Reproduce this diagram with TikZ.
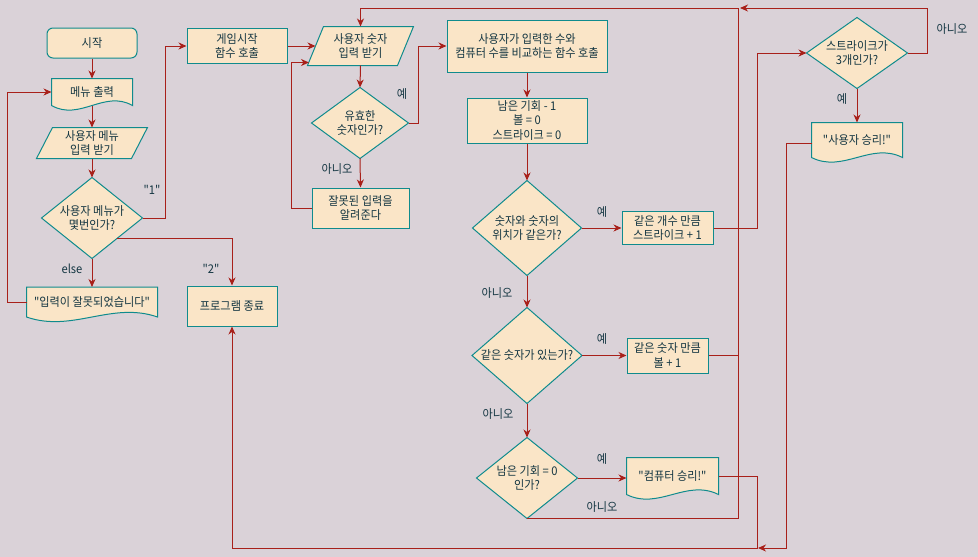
\documentclass[tikz,border=0pt]{standalone}
\usepackage{fontspec}
\setmainfont{Noto Sans CJK KR}[FakeStretch=0.93, Ligatures=TeXOff]
\usetikzlibrary{arrows.meta,calc,backgrounds}

\definecolor{bgcol}{HTML}{DAD2D8}
\definecolor{fillcol}{HTML}{FAE5C7}
\definecolor{linecol}{HTML}{0F8B8D}
\definecolor{flowcol}{HTML}{A8201A}
\definecolor{textcol}{HTML}{143642}

\tikzset{
  procbox/.style={draw=linecol, fill=fillcol, line width=1pt, text=textcol, align=center,
    inner sep=0pt, font=\fontsize{12}{14.5}\selectfont},
  txtonly/.style={procbox, draw=none, fill=none},
  outline/.style={draw=linecol, fill=fillcol, line width=1pt},
  flow/.style={draw=flowcol, line width=1pt, -{Stealth[length=8pt,width=7pt,inset=2.5pt]}},
  joint/.style={draw=flowcol, line width=1pt},
  lbl/.style={text=textcol, font=\fontsize{12}{14}\selectfont, inner sep=0pt},
}

% document shape with wavy bottom, drawn round a text node
\newcommand{\docpath}[1]{%
  \path[outline] (#1.north west) -- (#1.north east) -- (#1.south east)
    .. controls ($(#1.south east)!0.35!(#1.south west)+(0,-16)$)
            and ($(#1.south west)!0.35!(#1.south east)+(0,16)$) .. (#1.south west) -- cycle;}
% parallelogram round a text node
\newcommand{\parapath}[2]{%
  \path[outline] ([xshift=#2]#1.north west) -- ([xshift=#2]#1.north east)
    -- ([xshift=-#2]#1.south east) -- ([xshift=-#2]#1.south west) -- cycle;}

\begin{document}
\begin{tikzpicture}[x=1pt,y=-1pt]
\useasboundingbox (0,0) rectangle (978,557);
% menu column
\node[procbox, rounded corners=6pt, minimum width=90pt, minimum height=30pt] (start) at (92,43) {시작};
\node[txtonly, minimum width=80pt, minimum height=26pt] (menu) at (92,92) {메뉴 출력};
\node[txtonly, minimum width=94pt, minimum height=30pt] (menuin) at (92,143) {사용자 메뉴\\입력 받기};
\node[txtonly, minimum width=100pt, minimum height=80pt] (menuq) at (92,218) {사용자 메뉴가\\몇번인가?};
\node[txtonly, minimum width=130pt, minimum height=29pt] (wrong) at (92,302) {"입력이 잘못되었습니다"};
\node[procbox, minimum width=100pt, minimum height=35pt] (game) at (237,46) {게임시작\\함수 호출};
\node[procbox, minimum width=90pt, minimum height=40pt] (quit) at (232,306) {프로그램 종료};
% number input
\node[txtonly, minimum width=89pt, minimum height=38pt] (numin) at (360.5,46) {사용자 숫자\\입력 받기};
\node[txtonly, minimum width=96pt, minimum height=70pt] (validq) at (360,123) {유효한\\숫자인가?};
\node[procbox, minimum width=97pt, minimum height=40pt] (invalid) at (360.5,208) {잘못된 입력을\\알려준다};
% compare column
\node[procbox, minimum width=160pt, minimum height=52pt] (compare) at (527,46) {사용자가 입력한 수와\\컴퓨터 수를 비교하는 함수 호출};
\node[procbox, minimum width=120pt, minimum height=45pt] (reset) at (527,120.5) {남은 기회 - 1\\볼 = 0\\스트라이크 = 0};
\node[txtonly, minimum width=108pt, minimum height=94pt] (posq) at (527,228) {숫자와 숫자의\\위치가 같은가?};
\node[procbox, minimum width=91pt, minimum height=33pt] (strike) at (667.5,228) {같은 개수 만큼\\스트라이크 + 1};
\node[txtonly, minimum width=109pt, minimum height=95pt] (sameq) at (527,355.5) {같은 숫자가 있는가?};
\node[procbox, minimum width=81pt, minimum height=35pt] (ball) at (667.5,355.5) {같은 숫자 만큼\\볼 + 1};
\node[txtonly, minimum width=100pt, minimum height=80pt] (leftq) at (527,478) {남은 기회 = 0\\인가?};
\node[txtonly, minimum width=91pt, minimum height=36pt] (comwin) at (672.5,476) {"컴퓨터 승리!"};
\node[txtonly, minimum width=100pt, minimum height=70pt] (threeq) at (857,53) {스트라이크가\\3개인가?};
\node[txtonly, minimum width=90pt, minimum height=34pt] (userwin) at (857,140) {"사용자 승리!"};

% outlines behind the texts
\begin{scope}[on background layer]
  \fill[bgcol] (0,0) rectangle (978,557);
  \foreach \d in {menu,wrong,comwin,userwin} {\docpath{\d}}
  \foreach \p in {menuin,numin} {\parapath{\p}{8pt}}
  \foreach \q in {menuq,validq,posq,sameq,leftq,threeq}
    {\path[outline] (\q.north) -- (\q.east) -- (\q.south) -- (\q.west) -- cycle;}
\end{scope}

% connectors
\draw[flow] (start.south) -- (menu.north);
\draw[flow] (menu.south) -- (menuin.north);
\draw[flow] (menuin.south) -- (menuq.north);
\draw[flow] (menuq.east) -- ++(23,0) |- (game.west);
\draw[flow] ($(menuq.east)!0.5!(menuq.south)$) -| (quit.north);
\draw[flow] (menuq.south) -- (wrong.north);
\draw[flow] (wrong.west) -- ++(-19,0) |- (menu.west);
\draw[flow] (game.east) -- (numin.west);
\draw[flow] (numin.south) -- (validq.north);
\draw[flow] (validq.south) -- (invalid.north);
\draw[flow] (invalid.west) -- ++(-20,0) |- ([xshift=-6.5pt,yshift=3pt]numin.south west);
\draw[flow] (validq.east) -- ++(10,0) |- (compare.west);
\draw[flow] (compare.south) -- (reset.north);
\draw[flow] (reset.south) -- (posq.north);
\draw[flow] (posq.east) -- (strike.west);
\draw[flow] (posq.south) -- (sameq.north);
\draw[flow] (sameq.east) -- (ball.west);
\draw[flow] (sameq.south) -- (leftq.north);
\draw[flow] (leftq.east) -- (leftq.east -| comwin.west);
\coordinate (loopx) at (738,8);
\draw[flow] (leftq.south) -| (loopx) -| (numin.north);
\draw[joint] (ball.east) -- (ball.east -| loopx);
\draw[flow] (strike.east) -- ++(44,0) |- (threeq.west);
\draw[flow] (threeq.east) -- ++(20,0) |- ([xshift=2pt]loopx);
\draw[flow] (threeq.south) -- (userwin.north);
\coordinate (endjoin) at (757,548);
\draw[flow] ([yshift=-3pt]userwin.west) -- ++(-25,0) |- ([xshift=1pt]endjoin);
\draw[flow] (comwin.east) -| (endjoin) -| (quit.south);

% branch labels
\node[lbl] (lone) at (152,190) {"1"};
\node[lbl] (ltwo) at (211,269) {"2"};
\node[lbl] (lelse) at (72,269) {else};
\node[lbl] (yvalid) at (402,94) {예};
\node[lbl] (nvalid) at (337,169) {아니오};
\node[lbl] (ypos) at (602,212) {예};
\node[lbl] (npos) at (497,293) {아니오};
\node[lbl] (ysame) at (602,339) {예};
\node[lbl] (nsame) at (498,414) {아니오};
\node[lbl] (yleft) at (602,459) {예};
\node[lbl] (nleft) at (602,507) {아니오};
\node[lbl] (ythree) at (842,99) {예};
\node[lbl] (nthree) at (952,29) {아니오};
\end{tikzpicture}
\end{document}
